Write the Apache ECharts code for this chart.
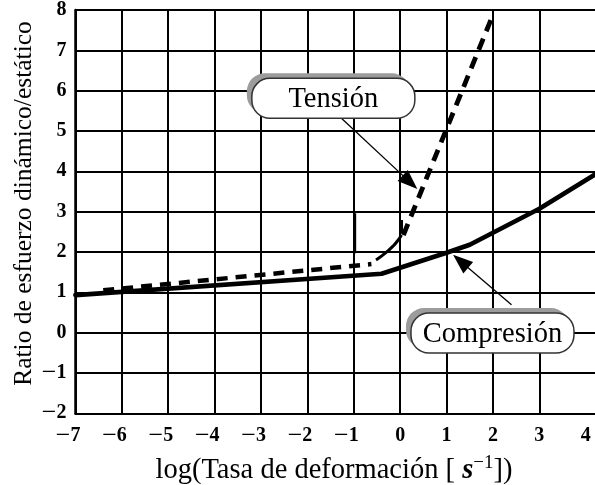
<!DOCTYPE html>
<html><head><meta charset="utf-8">
<script src="https://cdn.jsdelivr.net/npm/echarts@6/dist/echarts.min.js"></script>
<style>html,body{margin:0;padding:0;background:#fff}#c{width:595px;height:485px}</style>
</head><body><div id="c"></div>
<script>
// ---- data ----
const xTickValues = [-7, -6, -5, -4, -3, -2, -1, 0, 1, 2, 3];
const xLabelValues = [-7, -6, -5, -4, -3, -2, -1, 0, 1, 2, 3, 4];

const compresionX = [-7, -0.4, 1.0, 1.5, 3.0, 4.2];
const compresionY = [0.93, 1.46, 1.98, 2.18, 3.07, 3.92];

const tensionBajaX = [-6.4, -0.62];
const tensionBajaY = [1.05, 1.70];

const transicionX = [-0.52, -0.32, -0.15, -0.04, 0.03];
const transicionY = [1.80, 1.97, 2.15, 2.30, 2.42];

const tensionAltaX = [0.07, 2.0];
const tensionAltaY = [2.42, 7.88];

const marcaAX = [-0.98, -0.98];
const marcaAY = [1.97, 2.96];
const marcaBX = [0.03, 0.03];
const marcaBY = [2.46, 2.79];

const etiquetas = ['Tensión', 'Compresión'];
const etiquetaX = [-1.44, 1.99];
const etiquetaY = [5.81, -0.01];

const flechaDesdeX = [-1.26, 2.40];
const flechaDesdeY = [5.31, 0.69];
const flechaHastaX = [0.37, 1.14];
const flechaHastaY = [3.56, 1.93];

const tituloX = 'log(Tasa de deformación [ {s|s}{sup|−1}])';
const tituloY = 'Ratio de esfuerzo dinámico/estático';

// ---- helpers ----
const pairs = (xs, ys) => xs.map((x, i) => [x, ys[i]]);
const SERIF = 'Liberation Serif';
const numRich = {
  m: {fontFamily: SERIF, fontSize: 26, color: '#000', verticalAlign: 'middle', lineHeight: 22},
  d: {fontFamily: SERIF, fontSize: 20, fontWeight: 'bold', color: '#000', verticalAlign: 'middle', lineHeight: 22},
  h: {fontFamily: SERIF, fontSize: 26, color: 'rgba(0,0,0,0)', verticalAlign: 'middle', lineHeight: 22}
};
const fmtY = v => (v < 0 ? '{m|\u2212}{d|' + Math.abs(v) + '}' : '{d|' + v + '}');
const fmtX = v => (v < 0 ? '{m|\u2212}{d|' + Math.abs(v) + '}{h|\u2212}' : '{d|' + v + '}');

const chart = echarts.init(document.getElementById('c'), null, {renderer: 'canvas'});

const option = {
  animation: false,
  backgroundColor: '#fff',
  grid: {left: 75.4, top: 10, width: 519.7, height: 403.3, containLabel: false},
  xAxis: {
    type: 'value', min: -7, max: 4.2,
    axisLine: {show: true, onZero: false, lineStyle: {color: '#000', width: 2}},
    axisTick: {show: false, customValues: xTickValues},
    axisLabel: {
      customValues: xLabelValues, margin: 12,
      fontFamily: SERIF, fontSize: 20, color: '#000',
      formatter: fmtX, rich: numRich
    },
    splitLine: {show: true, lineStyle: {color: '#000', width: 2}}
  },
  yAxis: {
    type: 'value', min: -2, max: 8, interval: 1,
    axisLine: {show: true, onZero: false, lineStyle: {color: '#000', width: 2.5}},
    axisTick: {show: false},
    axisLabel: {margin: 9, fontFamily: SERIF, fontSize: 20, color: '#000', formatter: fmtY, rich: numRich},
    splitLine: {show: true, lineStyle: {color: '#000', width: 2}}
  },
  graphic: [
    {
      type: 'text', x: 334, y: 471, z: 10,
      style: {
        text: tituloX, font: '28.5px "' + SERIF + '"', fill: '#000',
        textAlign: 'center', textVerticalAlign: 'middle', lineHeight: 34,
        rich: {
          s: {fontFamily: SERIF, fontSize: 28.5, fontStyle: 'italic', fontWeight: 'bold', fill: '#000', lineHeight: 34},
          sup: {fontFamily: SERIF, fontSize: 19, fill: '#000', verticalAlign: 'top', lineHeight: 20}
        }
      }
    },
    {
      type: 'text', x: 24, y: 203.5, rotation: Math.PI / 2, z: 10,
      style: {
        text: tituloY, font: '25.5px "' + SERIF + '"', fill: '#000',
        textAlign: 'center', textVerticalAlign: 'middle'
      }
    }
  ],
  series: [
    {
      name: 'Compresión', type: 'line', data: pairs(compresionX, compresionY),
      showSymbol: false, symbol: 'none', z: 5,
      lineStyle: {color: '#000', width: 4.6, cap: 'round', join: 'round'}
    },
    {
      name: 'Tensión baja', type: 'line', data: pairs(tensionBajaX, tensionBajaY),
      symbol: 'none', z: 5,
      lineStyle: {color: '#000', width: 4.5, type: [11, 8], cap: 'butt'}
    },
    {
      name: 'Transición', type: 'line', data: pairs(transicionX, transicionY),
      symbol: 'none', smooth: 0.5, z: 5,
      lineStyle: {color: '#000', width: 3}
    },
    {
      name: 'Tensión alta', type: 'line', data: pairs(tensionAltaX, tensionAltaY),
      symbol: 'none', z: 5,
      lineStyle: {color: '#000', width: 4.8, type: [12, 8], cap: 'butt'}
    },
    {
      name: 'Marca A', type: 'line', data: pairs(marcaAX, marcaAY),
      symbol: 'none', z: 5, lineStyle: {color: '#000', width: 3}
    },
    {
      name: 'Marca B', type: 'line', data: pairs(marcaBX, marcaBY),
      symbol: 'none', z: 5, lineStyle: {color: '#000', width: 3}
    },
    {
      name: 'Flechas', type: 'custom', z: 8, clip: false,
      data: flechaDesdeX.map((x, i) => [x, flechaDesdeY[i], flechaHastaX[i], flechaHastaY[i]]),
      encode: {x: [0, 2], y: [1, 3]},
      renderItem: function (params, api) {
        const p0 = api.coord([api.value(0), api.value(1)]);
        const p1 = api.coord([api.value(2), api.value(3)]);
        const dx = p1[0] - p0[0], dy = p1[1] - p0[1];
        const L = Math.hypot(dx, dy), ux = dx / L, uy = dy / L;
        const hl = 20, hw = 7.5;
        const bx = p1[0] - ux * hl, by = p1[1] - uy * hl;
        return {
          type: 'group', children: [
            {type: 'line', shape: {x1: p0[0], y1: p0[1], x2: bx + ux * 4, y2: by + uy * 4},
             style: {stroke: '#000', lineWidth: 1.3}},
            {type: 'polygon', shape: {points: [[p1[0], p1[1]], [bx - uy * hw, by + ux * hw], [bx + uy * hw, by - ux * hw]]},
             style: {fill: '#000'}}
          ]
        };
      }
    },
    {
      name: 'Etiquetas', type: 'custom', z: 9, clip: false,
      data: etiquetas.map((t, i) => [etiquetaX[i], etiquetaY[i]]),
      encode: {x: 0, y: 1},
      renderItem: function (params, api) {
        const c = api.coord([api.value(0), api.value(1)]);
        const w = 163, h = 40, r = 18;
        const x = c[0] - w / 2, y = c[1] - h / 2;
        return {
          type: 'group', children: [
            {type: 'rect', shape: {x: x - 5, y: y - 5, width: w, height: h, r: r},
             style: {fill: '#9c9c9c'}},
            {type: 'rect', shape: {x: x, y: y, width: w, height: h, r: r},
             style: {fill: '#fff', stroke: '#333', lineWidth: 1.5}},
            {type: 'text', x: c[0], y: c[1] + 1,
             style: {text: etiquetas[params.dataIndex], font: '28.5px "' + SERIF + '"', fill: '#000',
                     textAlign: 'center', textVerticalAlign: 'middle'}}
          ]
        };
      }
    }
  ]
};
chart.setOption(option);
</script>
</body></html>
